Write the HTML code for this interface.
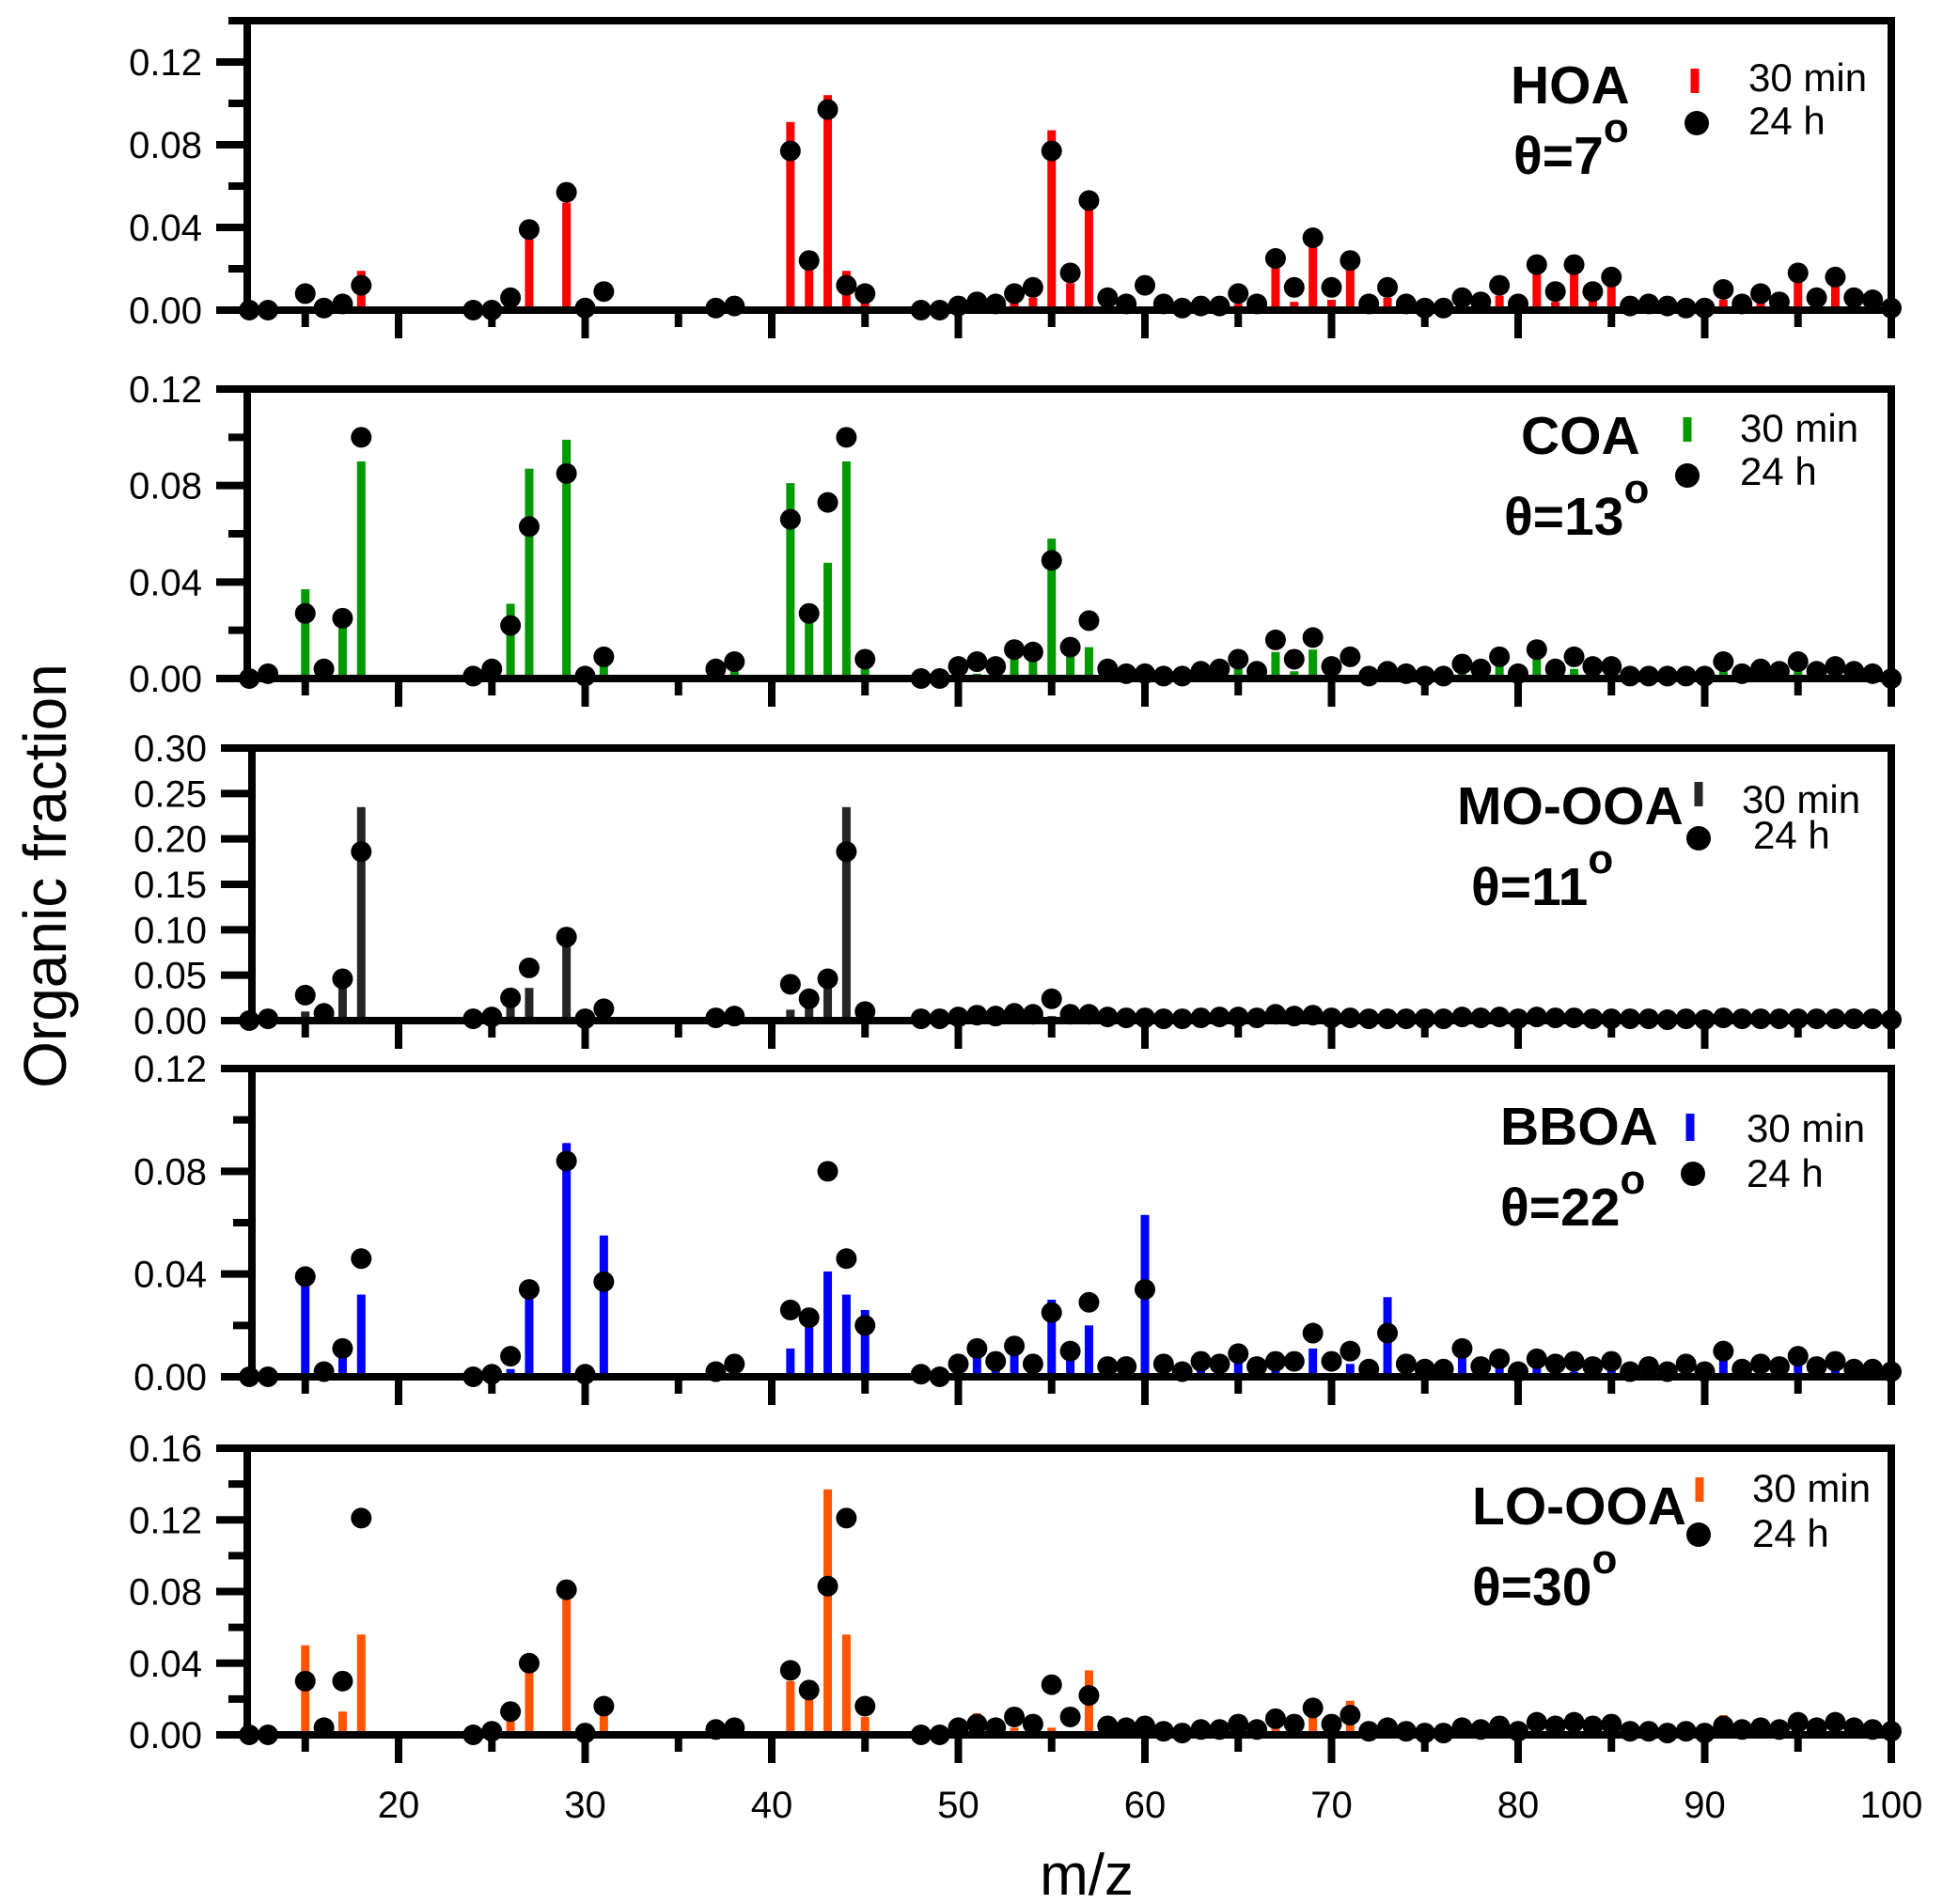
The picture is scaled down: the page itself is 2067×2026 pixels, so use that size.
<!DOCTYPE html>
<html><head><meta charset="utf-8"><style>
html,body{margin:0;padding:0;background:#fff;}
svg{display:block;font-family:"Liberation Sans",Arial,sans-serif;}
</style></head><body>
<svg id="chart" width="2067" height="2026" viewBox="0 0 2067 2026" xmlns="http://www.w3.org/2000/svg">
<text x="0" y="0" transform="translate(70,932) rotate(-90)" text-anchor="middle" font-size="64">Organic fraction</text>
<text x="1156" y="2016" text-anchor="middle" font-size="62">m/z</text>
</svg>
<script>
const mz = [12,13,15,16,17,18,24,25,26,27,29,30,31,37,38,41,42,43,44,45,48,49,50,51,52,53,54,55,56,57,58,59,60,61,62,63,64,65,66,67,68,69,70,71,72,73,74,75,76,77,78,79,80,81,82,83,84,85,86,87,88,89,90,91,92,93,94,95,96,97,98,99,100];
// 24 h (dots) per panel, aligned with mz
const hoaDots = [0,0,0.008,0.001,0.003,0.012,0,0,0.006,0.039,0.057,0.001,0.009,0.001,0.002,0.077,0.024,0.097,0.012,0.008,0,0,0.002,0.004,0.003,0.008,0.011,0.077,0.018,0.053,0.006,0.003,0.012,0.003,0.001,0.002,0.002,0.008,0.003,0.025,0.011,0.035,0.011,0.024,0.003,0.011,0.003,0.001,0.001,0.006,0.004,0.012,0.003,0.022,0.009,0.022,0.009,0.016,0.002,0.003,0.002,0.001,0.001,0.01,0.003,0.008,0.004,0.018,0.006,0.016,0.006,0.005,0.001];
const hoaBars = [0,0,0,0,0,0.019,0,0,0.002,0.037,0.052,0,0,0,0,0.091,0.022,0.104,0.019,0.007,0,0,0,0,0,0.004,0.006,0.087,0.013,0.051,0,0,0.001,0,0,0,0,0.003,0,0.021,0.004,0.032,0.005,0.02,0,0.006,0,0,0,0.003,0,0.007,0,0.019,0.004,0.018,0.006,0.014,0,0,0,0,0,0.005,0,0.004,0,0.015,0.002,0.012,0.003,0.002,0];
const coaDots = [0,0.002,0.027,0.004,0.025,0.100,0.001,0.004,0.022,0.063,0.085,0.001,0.009,0.004,0.007,0.066,0.027,0.073,0.100,0.008,0,0,0.005,0.007,0.005,0.012,0.011,0.049,0.013,0.024,0.004,0.002,0.002,0.001,0.001,0.003,0.004,0.008,0.003,0.016,0.008,0.017,0.005,0.009,0.001,0.003,0.002,0.001,0.001,0.006,0.004,0.009,0.002,0.012,0.004,0.009,0.005,0.005,0.001,0.001,0.001,0.001,0.001,0.007,0.002,0.004,0.003,0.007,0.003,0.005,0.003,0.002,0];
const coaBars = [0,0,0.037,0,0.022,0.090,0,0,0.031,0.087,0.099,0,0.006,0,0.003,0.081,0.025,0.048,0.090,0.004,0,0,0,0.002,0,0.010,0.008,0.058,0.012,0.013,0,0,0,0,0,0,0,0.004,0,0.011,0.003,0.012,0.001,0,0,0,0,0,0,0.002,0,0.005,0,0.008,0,0.004,0,0,0,0,0,0,0,0.004,0,0,0,0.003,0,0,0,0,0];
const mooDots = [0,0.002,0.028,0.008,0.046,0.186,0.002,0.004,0.025,0.058,0.092,0.002,0.013,0.003,0.005,0.040,0.024,0.046,0.186,0.010,0.002,0.002,0.004,0.006,0.005,0.008,0.007,0.024,0.007,0.007,0.004,0.003,0.003,0.002,0.002,0.003,0.004,0.004,0.003,0.007,0.005,0.006,0.003,0.003,0.002,0.002,0.002,0.002,0.002,0.004,0.003,0.004,0.002,0.004,0.003,0.003,0.002,0.002,0.002,0.002,0.001,0.002,0.001,0.003,0.002,0.002,0.002,0.002,0.002,0.002,0.002,0.002,0.001];
const mooBars = [0,0,0.010,0,0.055,0.235,0,0,0.015,0.036,0.090,0,0,0,0,0.012,0.020,0.048,0.235,0.005,0,0,0,0,0,0,0,0.005,0,0,0,0,0,0,0,0,0,0,0,0,0,0,0,0,0,0,0,0,0,0,0,0,0,0,0,0,0,0,0,0,0,0,0,0,0,0,0,0,0,0,0,0,0];
const bboaDots = [0,0,0.039,0.002,0.011,0.046,0,0.001,0.008,0.034,0.084,0.001,0.037,0.002,0.005,0.026,0.023,0.080,0.046,0.020,0.001,0,0.005,0.011,0.006,0.012,0.005,0.025,0.010,0.029,0.004,0.004,0.034,0.005,0.002,0.006,0.005,0.009,0.004,0.006,0.006,0.017,0.006,0.010,0.003,0.017,0.005,0.003,0.003,0.011,0.004,0.007,0.002,0.007,0.005,0.006,0.004,0.006,0.002,0.004,0.002,0.005,0.002,0.010,0.003,0.005,0.004,0.008,0.004,0.006,0.003,0.003,0.002];
const bboaBars = [0,0,0.038,0,0.009,0.032,0,0,0.003,0.033,0.091,0,0.055,0,0.002,0.011,0.024,0.041,0.032,0.026,0,0,0.002,0.010,0.003,0.010,0.002,0.030,0.010,0.020,0,0,0.063,0.002,0,0.003,0,0.006,0,0.004,0,0.011,0,0.005,0,0.031,0.002,0,0,0.008,0,0.004,0,0.004,0,0.002,0,0.004,0,0,0,0.002,0,0.007,0,0,0,0.005,0,0.003,0,0,0];
const looDots = [0,0,0.030,0.004,0.030,0.121,0,0.002,0.013,0.040,0.081,0.001,0.016,0.003,0.004,0.036,0.025,0.083,0.121,0.016,0,0,0.004,0.006,0.004,0.010,0.006,0.028,0.010,0.022,0.005,0.004,0.005,0.002,0.001,0.003,0.003,0.006,0.003,0.009,0.006,0.015,0.006,0.011,0.002,0.004,0.002,0.001,0.001,0.004,0.003,0.005,0.002,0.007,0.005,0.007,0.005,0.006,0.002,0.002,0.001,0.002,0.001,0.005,0.003,0.004,0.003,0.007,0.004,0.007,0.004,0.003,0.002];
const looBars = [0,0,0.050,0,0.013,0.056,0,0,0.009,0.037,0.080,0,0.012,0,0,0.030,0.022,0.137,0.056,0.010,0,0,0,0.012,0,0.004,0,0.004,0,0.036,0,0,0,0,0,0,0,0.002,0,0.004,0,0.020,0,0.019,0,0,0,0,0,0.004,0,0,0,0.003,0,0,0,0,0,0,0,0,0,0.011,0,0,0,0.002,0,0,0,0,0];
const xTickMajor = [20,30,40,50,60,70,80,90,100];
const xTickMinor = [15,25,35,45,55,65,75,85,95];
const tickLabels12 = ["0.00","0.04","0.08","0.12"];
const tickVals12 = [0,0.04,0.08,0.12];
const tickLabels30 = ["0.00","0.05","0.10","0.15","0.20","0.25","0.30"];
const tickVals30 = [0,0.05,0.10,0.15,0.20,0.25,0.30];
const tickLabels16 = ["0.00","0.04","0.08","0.12","0.16"];
const tickVals16 = [0,0.04,0.08,0.12,0.16];

const NS="http://www.w3.org/2000/svg";
const svg=document.getElementById('chart');
function mk(tag,attrs,parent){const e=document.createElementNS(NS,tag);for(const k in attrs)e.setAttribute(k,attrs[k]);(parent||svg).appendChild(e);return e;}
const xs = m => 2012 - (100-m)*19.85;

const panels=[
 {key:'hoa',name:'HOA',theta:'7',color:'#ff0000',dots:hoaDots,bars:hoaBars,top:22,y0:330,ymax:0.12,yTop:66,ax:263,tv:tickVals12,tl:tickLabels12,minor:[0.02,0.06,0.10],
  lab:[1607,110],th:[1610,185],lb:[1803,73,99],lt:[1860,97,143],ld:[1805,131]},
 {key:'coa',name:'COA',theta:'13',color:'#009a00',dots:coaDots,bars:coaBars,top:414,y0:722,ymax:0.12,yTop:414,ax:263,tv:tickVals12,tl:tickLabels12,minor:[0.02,0.06,0.10],
  lab:[1618,483],th:[1600,569],lb:[1795,444,470],lt:[1851,470,516],ld:[1795,506]},
 {key:'mo-ooa',name:'MO-OOA',theta:'11',color:'#262626',dots:mooDots,bars:mooBars,top:796,y0:1086,ymax:0.30,yTop:796,ax:268,tv:tickVals30,tl:tickLabels30,minor:[],
  lab:[1550,877],th:[1565,963],lb:[1807,832,858],lt:[1853,865,903],ld:[1807,892]},
 {key:'bboa',name:'BBOA',theta:'22',color:'#0000ff',dots:bboaDots,bars:bboaBars,top:1137,y0:1465,ymax:0.12,yTop:1137,ax:268,tv:tickVals12,tl:tickLabels12,minor:[0.02,0.06,0.10],
  lab:[1596,1218],th:[1596,1304],lb:[1798,1185,1214],lt:[1858,1215,1263],ld:[1801,1249]},
 {key:'lo-ooa',name:'LO-OOA',theta:'30',color:'#ff5500',dots:looDots,bars:looBars,top:1541,y0:1846,ymax:0.16,yTop:1541,ax:263,tv:tickVals16,tl:tickLabels16,minor:[0.02,0.06,0.10,0.14],
  lab:[1566,1622],th:[1566,1708],lb:[1808,1572,1598],lt:[1864,1598,1646],ld:[1807,1633]}
];

panels.forEach((p,pi)=>{
  const g=mk('g',{});
  
  
  const ys=v=>p.y0-(v/p.ymax)*(p.y0-p.yTop);
  p.bars.forEach((v,i)=>{ if(v<=0) return;
    const r=mk('rect',{x:xs(mz[i])-4.5,y:ys(v),width:9,height:p.y0-ys(v),fill:p.color},g);
    
    
  });
  const A={stroke:'#000','stroke-width':8,fill:'none'};
  mk('line',Object.assign({x1:p.ax-20,y1:p.top,x2:2016,y2:p.top},A),g);
  mk('line',Object.assign({x1:2012,y1:p.top,x2:2012,y2:p.y0+30},A),g);
  mk('line',Object.assign({x1:p.ax,y1:p.top,x2:p.ax,y2:p.y0},A),g);
  mk('line',Object.assign({x1:p.ax-33,y1:p.y0,x2:2012,y2:p.y0},A),g);
  p.tv.forEach((v,i)=>{
    mk('line',Object.assign({x1:p.ax-33,y1:ys(v),x2:p.ax,y2:ys(v)},A),g);
    const t=mk('text',{x:p.ax-48,y:ys(v)+14,'text-anchor':'end','font-size':40},g);
    t.textContent=p.tl[i];
    
    
  });
  p.minor.forEach(v=>mk('line',Object.assign({x1:p.ax-20,y1:ys(v),x2:p.ax,y2:ys(v)},A),g));
  xTickMajor.forEach(m=>mk('line',Object.assign({x1:xs(m),y1:p.y0,x2:xs(m),y2:p.y0+30},A),g));
  xTickMinor.forEach(m=>mk('line',Object.assign({x1:xs(m),y1:p.y0,x2:xs(m),y2:p.y0+18},A),g));
  p.dots.forEach((v,i)=>{
    const c=mk('circle',{cx:xs(mz[i]),cy:ys(v),r:11,fill:'#000'},g);
    
    
  });
  const nl=mk('text',{x:p.lab[0],y:p.lab[1],'font-size':57,'font-weight':'bold'},g);
  nl.textContent=p.name;
  
  
  const th=mk('text',{x:p.th[0],y:p.th[1],'font-size':57,'font-weight':'bold'},g);
  
  
  th.appendChild(document.createTextNode('θ='+p.theta));
  const sup=mk('tspan',{dy:-34,'font-size':44,'font-weight':'bold'},th);
  sup.textContent='o';
  const lb=mk('rect',{x:p.lb[0]-4.5,y:p.lb[1],width:9,height:p.lb[2]-p.lb[1],fill:p.color},g);
  
  
  const ld=mk('circle',{cx:p.ld[0],cy:p.ld[1],r:13,fill:'#000'},g);
  
  
  const t1=mk('text',{x:p.lt[0],y:p.lt[1],'font-size':42},g);
  t1.textContent='30 min';
  
  
  const t2=mk('text',{x:p.lt[0]+(p.key==='mo-ooa'?12:0),y:p.lt[2],'font-size':42},g);
  t2.textContent='24 h';
  
  
});
xTickMajor.forEach(m=>{
  const t=mk('text',{x:xs(m),y:1934,'text-anchor':'middle','font-size':40});
  t.textContent=String(m);
  
  
});
</script>
</body></html>
